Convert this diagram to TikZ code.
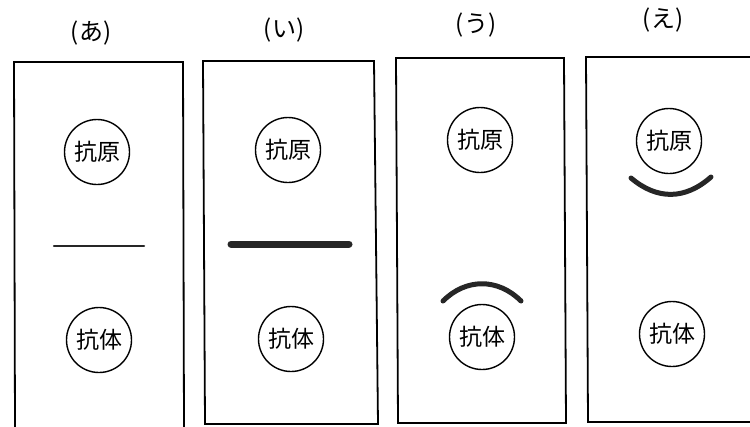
\documentclass[tikz,border=0pt]{standalone}
\usepackage{fontspec}
\newfontfamily\jpfont{Noto Sans CJK JP}
\begin{document}
\begin{tikzpicture}[x=1pt,y=-1pt,
  panel/.style={line width=1.8pt, black},
  ball/.style={circle, draw, line width=1.4pt, minimum size=65pt, inner sep=0pt, font=\jpfont\fontsize{23}{23}\selectfont},
  lbl/.style={font=\jpfont\fontsize{24}{24}\selectfont, inner sep=0pt},
  band/.style={line cap=round, black!85}
]
\useasboundingbox (0,0) rectangle (750,426);
% panel frames
\draw[panel] (15,430) -- (14,62) -- (183,62) -- (184,430);
\draw[panel] (205,424) -- (203,61) -- (374,61) -- (378,424) -- cycle;
\draw[panel] (398,423) -- (396,58) -- (564,58) -- (566,423) -- cycle;
\draw[panel] (760,422) -- (588,422) -- (586,57) -- (760,57);
% labels
\node[lbl] (la) at (91,33) {(あ)};
\node[lbl] (li) at (284,30) {(い)};
\node[lbl] (lu) at (476,25) {(う)};
\node[lbl] (le) at (663,20) {(え)};
% panel a
\node[ball] (a1) at (97,152) {抗原};
\node[ball] (a2) at (99,340) {抗体};
\coordinate (al) at (54,246);
\coordinate (ar) at (144,246);
\draw[band, line width=2.5pt] (al) -- (ar);
% panel i
\node[ball] (i1) at (288,150) {抗原};
\node[ball] (i2) at (291,339) {抗体};
\coordinate (il) at (231,244);
\coordinate (ir) at (349,244);
\draw[band, line width=7pt] (il) -- (ir);
% panel u
\node[ball] (u1) at (480,140) {抗原};
\node[ball] (u2) at (482,337) {抗体};
\coordinate (ul) at (443,301);
\coordinate (ur) at (521,301);
\draw[band, line width=5pt] (ul) .. controls (466,278) and (498,278) .. (ur);
% panel e
\node[ball] (e1) at (669,141) {抗原};
\node[ball] (e2) at (672,334) {抗体};
\coordinate (el) at (631,178);
\coordinate (er) at (711,177);
\draw[band, line width=5pt] (el) .. controls (657,200) and (685,200) .. (er);
\end{tikzpicture}
\end{document}
